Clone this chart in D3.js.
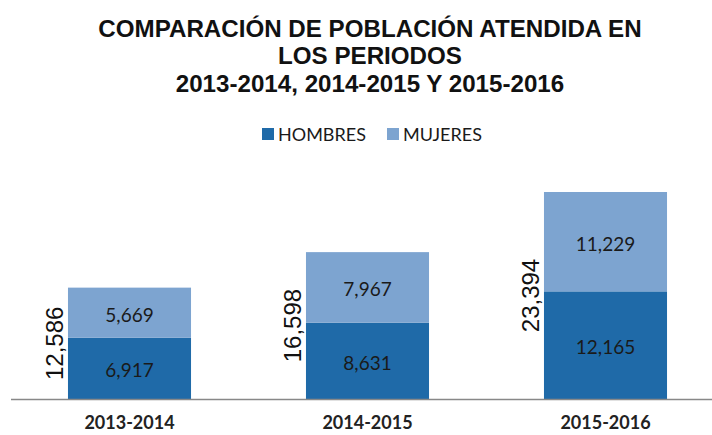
<!DOCTYPE html>
<html><head><meta charset="utf-8">
<script src="https://cdn.jsdelivr.net/npm/d3@7"></script>
<style>body{margin:0;background:#fff}</style>
</head><body>
<svg id="c" width="712" height="435"></svg>
<script>
const categories = ["2013-2014", "2014-2015", "2015-2016"];
const hombres = [6917, 8631, 12165];
const mujeres = [5669, 7967, 11229];
const seriesNames = ["HOMBRES", "MUJERES"];
const seriesColors = ["#1F6AA8", "#7DA4D0"];
const titleLines = ["COMPARACIÓN DE POBLACIÓN ATENDIDA EN", "LOS PERIODOS", "2013-2014, 2014-2015 Y 2015-2016"];

const totals = categories.map((c, i) => hombres[i] + mujeres[i]);
const svg = d3.select("#c");
const fmt = d3.format(",");

const x = d3.scaleBand().domain(categories).range([10.5, 724.5]).paddingInner(0.483).paddingOuter(0.2415);
const y = d3.scaleLinear().domain([0, d3.max(totals)]).range([399, 192]);

// title
svg.append("g").selectAll("text").data(titleLines).join("text")
  .attr("x", 370).attr("y", (d, i) => [37, 64, 92][i])
  .attr("text-anchor", "middle")
  .attr("font-family", "Liberation Sans, Arial, sans-serif")
  .attr("font-weight", "bold").attr("font-size", 23).attr("fill", "#111")
  .attr("transform", "translate(370,0) scale(1.05,1) translate(-370,0)")
  .text(d => d);

// legend
const lg = svg.append("g");
const legX = [262, 387];
seriesNames.forEach((s, i) => {
  lg.append("rect").attr("x", legX[i]).attr("y", 128).attr("width", 12).attr("height", 12).attr("fill", seriesColors[i]);
  lg.append("text").attr("x", legX[i] + 16).attr("y", 141)
    .attr("font-family", "Lato, sans-serif").attr("font-size", 18).attr("fill", "#1a1a1a")
    .text(s);
});

// stacked data
const table = categories.map((c, i) => ({cat: c, HOMBRES: hombres[i], MUJERES: mujeres[i]}));
const stack = d3.stack().keys(seriesNames)(table);

const gb = svg.append("g");
stack.forEach((layer, li) => {
  gb.append("g").selectAll("rect").data(layer).join("rect")
    .attr("x", d => x(d.data.cat)).attr("width", x.bandwidth())
    .attr("y", d => y(d[1])).attr("height", d => y(d[0]) - y(d[1]))
    .attr("fill", seriesColors[li]);
  gb.append("g").selectAll("text").data(layer).join("text")
    .attr("x", d => x(d.data.cat) + x.bandwidth() / 2)
    .attr("y", d => (y(d[0]) + y(d[1])) / 2 + 1.5)
    .attr("text-anchor", "middle").attr("dominant-baseline", "central")
    .attr("font-family", "Lato, sans-serif").attr("font-size", 19).attr("fill", "#1a1a1a")
    .text(d => fmt(d[1] - d[0]));
});

// totals rotated
svg.append("g").selectAll("text").data(categories).join("text")
  .attr("transform", (c, i) => `translate(${x(c) - 5},${(y(0) + y(totals[i])) / 2}) rotate(-90)`)
  .attr("text-anchor", "middle")
  .attr("font-family", "Liberation Sans, Arial, sans-serif").attr("font-size", 24).attr("fill", "#111")
  .text((c, i) => fmt(totals[i]));

// axis
const ax = svg.append("g").attr("transform", "translate(0,399.5)")
  .call(d3.axisBottom(x).tickSize(0).tickPadding(17));
ax.select(".domain").attr("d", "M11,0H712").attr("stroke", "#888").attr("stroke-width", 1.5);
ax.selectAll("text").attr("font-family", "Lato, sans-serif").attr("font-size", 18)
  .attr("font-weight", "bold").attr("fill", "#222");
</script>
</body></html>
